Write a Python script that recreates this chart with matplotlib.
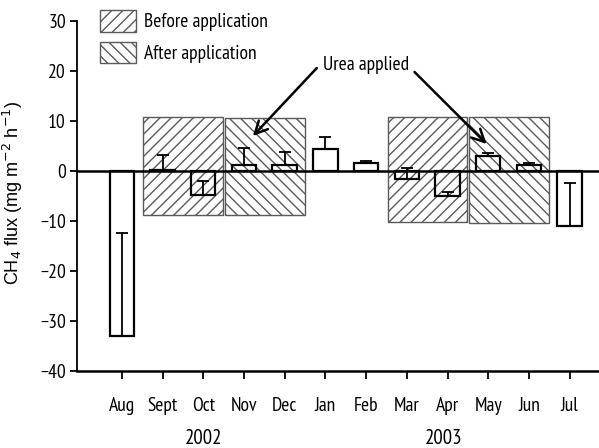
import matplotlib
matplotlib.use("Agg")
import matplotlib.pyplot as plt
import matplotlib.transforms as mtransforms
from matplotlib.patches import Patch

months = ['Aug', 'Sept', 'Oct', 'Nov', 'Dec', 'Jan', 'Feb', 'Mar', 'Apr', 'May', 'Jun', 'Jul']
flux = [-33.0, 0.2, -4.8, 1.1, 1.1, 4.4, 1.5, -1.7, -5.0, 3.0, 1.2, -11.0]
err_up = [20.6, 3.0, 2.8, 3.5, 2.7, 2.4, 0.5, 2.3, 0.8, 0.5, 0.4, 8.6]

# hatched periods: (first month index, last month index, bottom, top, kind)
period_start = [1, 3, 7, 9]
period_end = [2, 4, 8, 10]
period_bottom = [-8.8, -8.8, -10.2, -10.4]
period_top = [10.8, 10.5, 10.8, 10.8]
period_kind = ['Before application', 'After application', 'Before application', 'After application']

years = ['2002', '2003']
year_pos = [2.0, 7.9]

NARROW = ['PT Sans Narrow', 'Archivo Narrow', 'DejaVu Sans']
REG = ['Liberation Sans', 'DejaVu Sans']

fig = plt.figure(figsize=(5.99, 4.48), dpi=100)
ax = fig.add_axes([77/599, 1-371/448, 1-77/599, (371-21)/448])

hatches = {'Before application': '///', 'After application': '\\\\\\'}
gray = '#5a5a5a'
for s, e, b, t, k in zip(period_start, period_end, period_bottom, period_top, period_kind):
    left = s - 0.47
    right = e + 0.49
    ax.bar((left + right) / 2, t - b, width=right - left, bottom=b,
           facecolor='white', edgecolor=gray, hatch=hatches[k], linewidth=1.0, zorder=1)

x = list(range(len(months)))
ax.bar(x, flux, width=0.6, facecolor='none', edgecolor='black', linewidth=1.6, zorder=3)
ax.errorbar(x, flux, yerr=[[0]*len(err_up), err_up], fmt='none', ecolor='black',
            elinewidth=1.3, capsize=4, capthick=1.3, zorder=4)

ax.axhline(0, color='black', linewidth=1.8, zorder=5)

ax.set_xlim(-1.1, 11.72)
ax.set_ylim(-40, 30)
ax.set_yticks([-40, -30, -20, -10, 0, 10, 20, 30])
ax.set_yticklabels(['\u221240', '\u221230', '\u221220', '\u221210', '0', '10', '20', '30'])
ax.set_xticks(x)
ax.set_xticklabels(months)
for lab in ax.get_xticklabels() + ax.get_yticklabels():
    lab.set_family(NARROW)
    lab.set_fontsize(14)
ax.tick_params(axis='x', direction='out', length=6, width=1.3, pad=13)
ax.tick_params(axis='y', direction='out', length=5, width=1.3, pad=3)
ax.spines['top'].set_visible(False)
ax.spines['right'].set_visible(False)
ax.spines['bottom'].set_linewidth(1.8)
ax.spines['left'].set_linewidth(1.3)
ax.spines['bottom'].set_zorder(6)
ax.patch.set_visible(False)

ax.set_ylabel('CH$_4$ flux (mg m$^{-2}$ h$^{-1}$)', family=REG, fontsize=13)
ax.yaxis.set_label_coords(-52/522, (371-193)/350)

trans = mtransforms.blended_transform_factory(ax.transData, fig.transFigure)
for yr, xp in zip(years, year_pos):
    ax.text(xp, 1-438/448, yr, transform=trans, ha='center', va='center',
            family=NARROW, fontsize=15)

# legend
handles = [Patch(facecolor='white', edgecolor=gray, hatch=hatches['Before application'], linewidth=1.0, label='Before application'),
           Patch(facecolor='white', edgecolor=gray, hatch=hatches['After application'], linewidth=1.0, label='After application')]
fig.legend(handles=handles, loc='upper left', bbox_to_anchor=(100/599, 1-10/448), frameon=False,
           handlelength=1.85, handleheight=1.35, labelspacing=0.5, handletextpad=0.4,
           borderpad=0, borderaxespad=0, prop={'family': NARROW, 'size': 14})

# annotations
ax.text(6.0, 21.2, 'Urea applied', ha='center', va='center', family=NARROW, fontsize=14)
arrow = dict(arrowstyle='->, head_length=0.9, head_width=0.45', color='black', lw=1.8,
             shrinkA=0, shrinkB=0)
ax.annotate('', xy=(3.22, 7.0), xytext=(4.79, 20.6), arrowprops=arrow, zorder=7)
ax.annotate('', xy=(8.96, 5.4), xytext=(7.19, 19.8), arrowprops=arrow, zorder=7)

fig.savefig('out.png', dpi=100)
